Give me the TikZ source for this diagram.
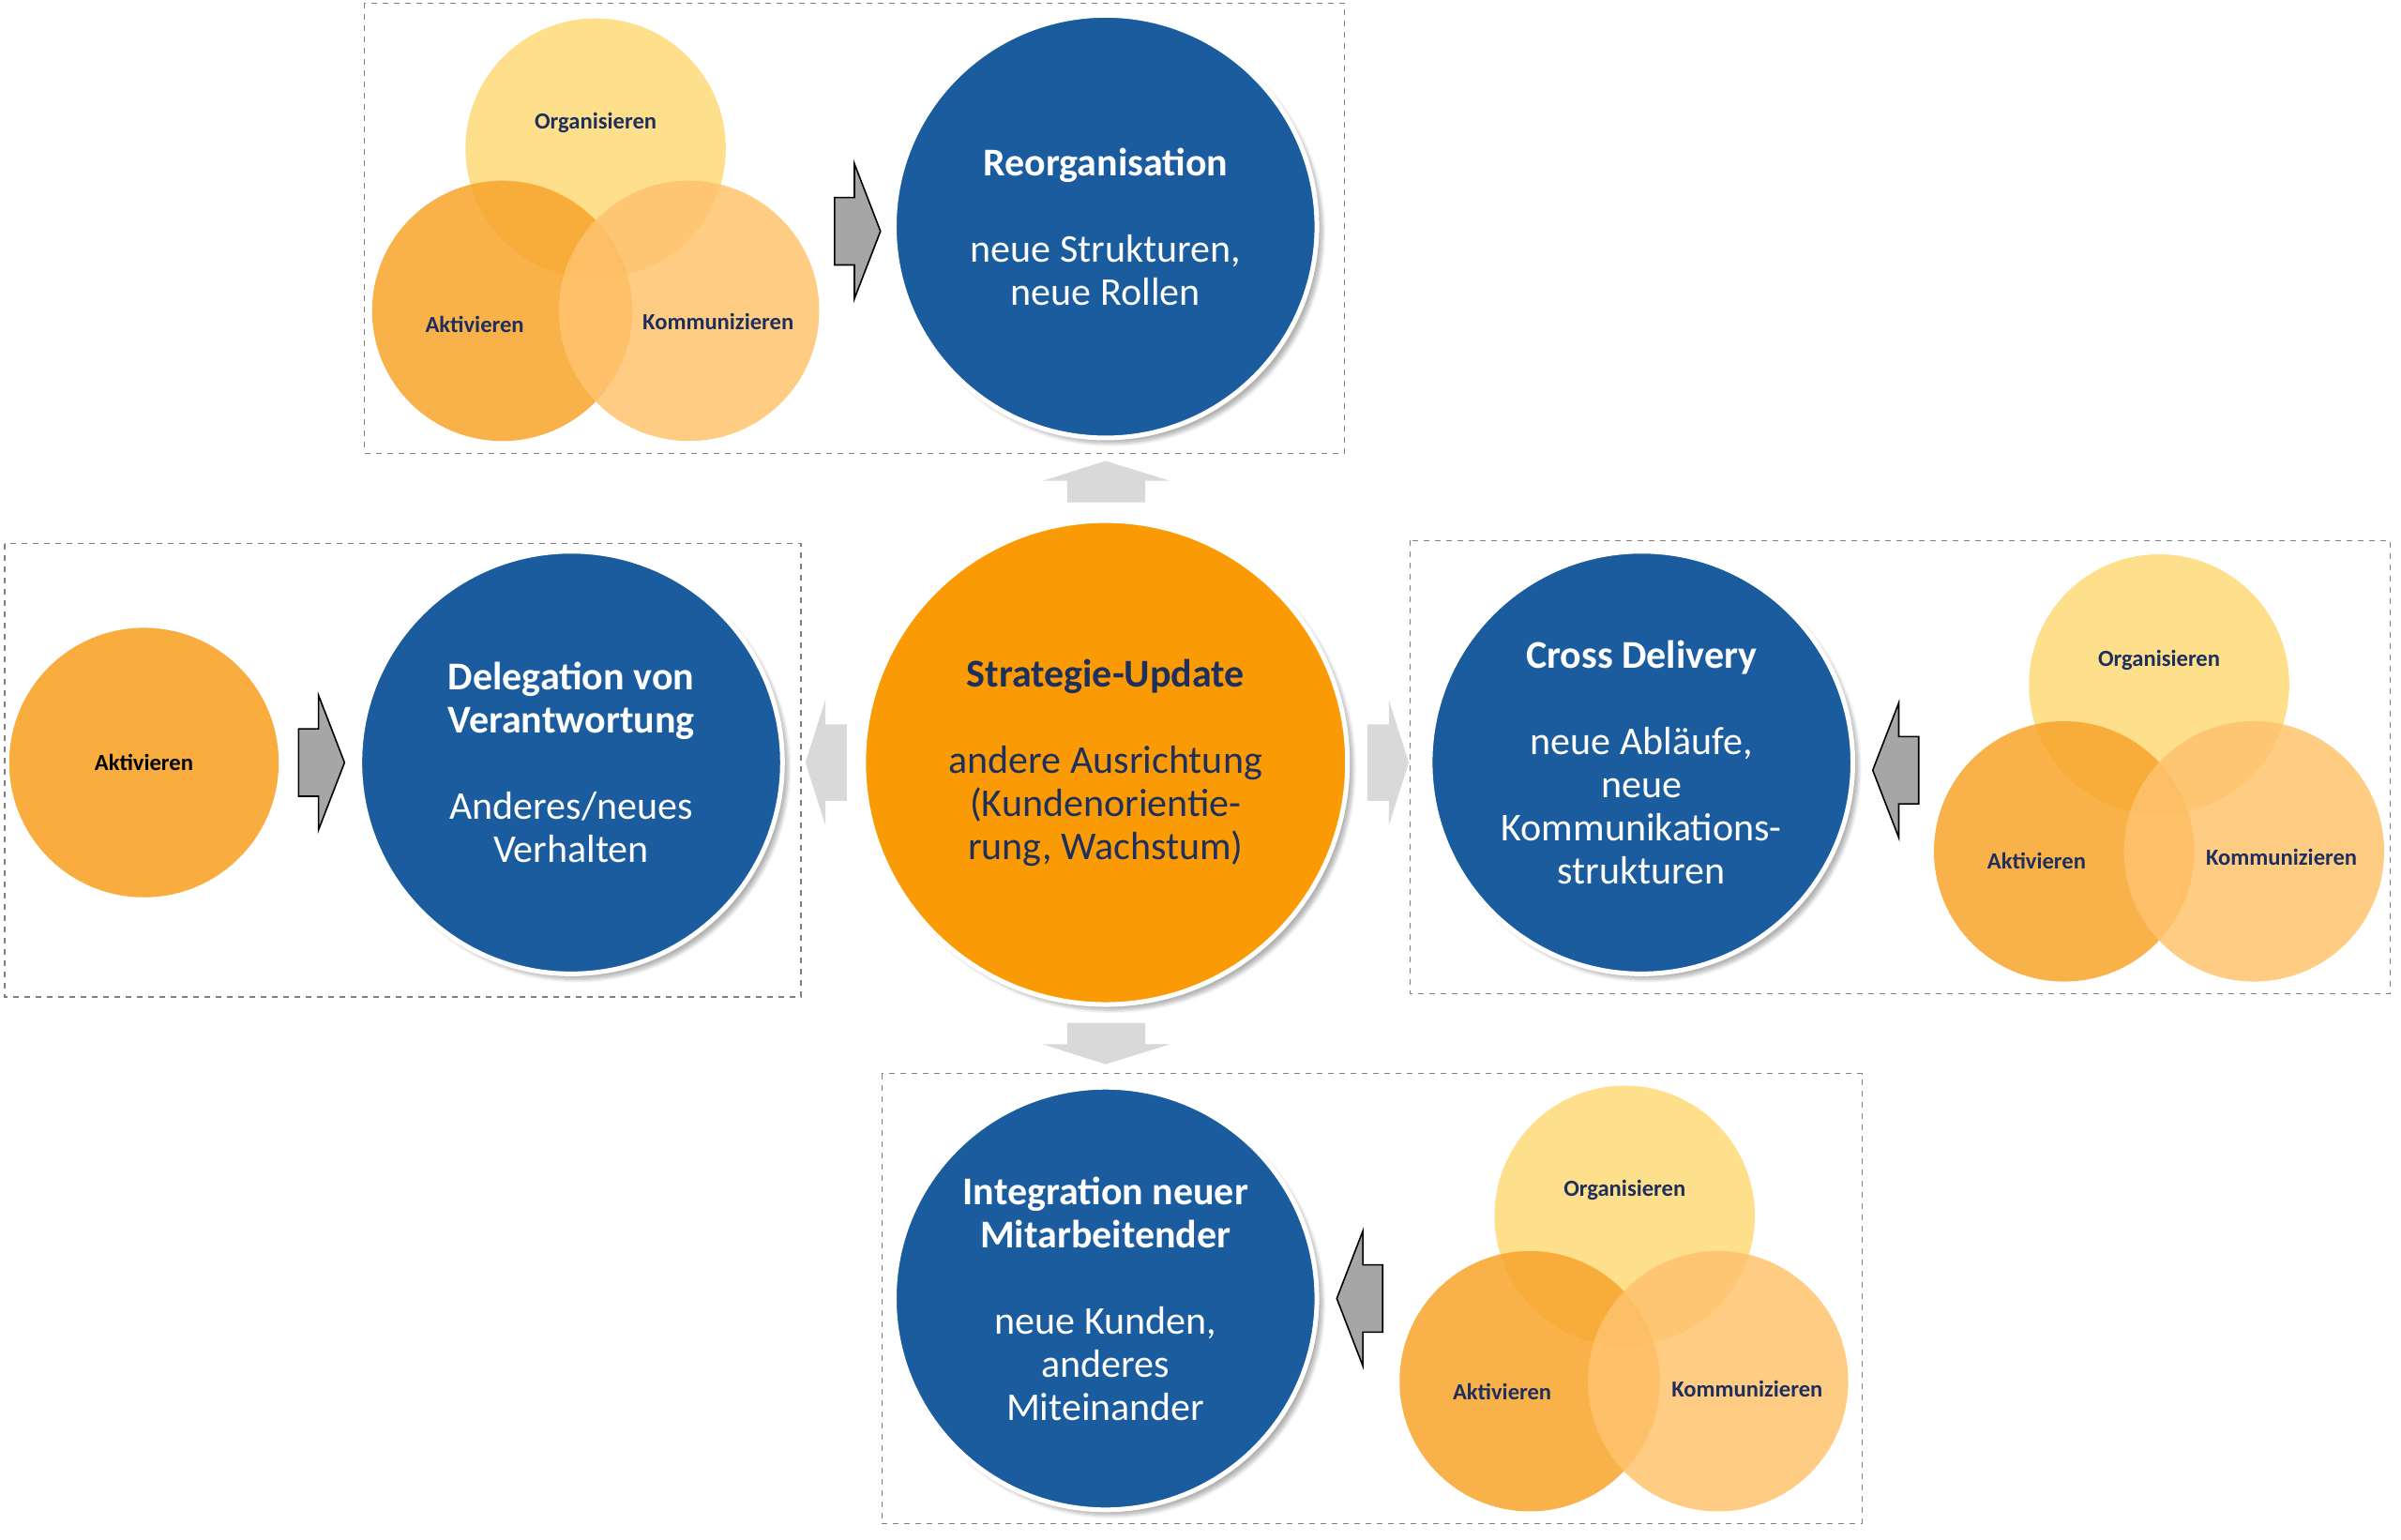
\documentclass[tikz,border=0pt]{standalone}
\usepackage{fontspec}
\setmainfont{Carlito}
\usetikzlibrary{shadows.blur}
\definecolor{cblue}{HTML}{1B5C9E}
\definecolor{corange}{HTML}{FA9B06}
\definecolor{corg}{HTML}{FED978}
\definecolor{cakt}{HTML}{F8A42A}
\definecolor{ckom}{HTML}{FFC36E}
\definecolor{cnavy}{HTML}{1F2F5C}
\definecolor{cgray}{HTML}{D9D9D9}
\begin{document}
\begin{tikzpicture}[x=0.8163pt,y=-0.8163pt,
  big/.style={circle,draw=white,line width=2.5pt,minimum size=276*0.8163pt,inner sep=0pt,text=white,align=center,font=\fontsize{21}{23}\selectfont,
     blur shadow={shadow xshift=3pt,shadow yshift=-3pt,shadow blur steps=8,shadow opacity=30}},
  ven/.style={circle,minimum size=170*0.8163pt,inner sep=0pt,fill opacity=0.85,text opacity=1},
  vlab/.style={font=\bfseries\fontsize{12.3}{14}\selectfont,text=cnavy},
  box/.style={draw=gray,dashed,line width=0.7pt},
  darr/.style={draw=black,fill=gray!70,line width=0.8pt,line join=miter},
  garr/.style={fill=cgray}]
\useasboundingbox (0,0) rectangle (1568,1005.7);
\draw[box] (238,2) rectangle (878,296);
\draw[box] (3,355) rectangle (523,651);
\draw[box] (921,353) rectangle (1561,649);
\draw[box] (576,701) rectangle (1216,995);
% Venn top
\node[ven,fill=corg] (o1) at (389,97) {};
\node[ven,fill=cakt] (a1) at (328,203) {};
\node[ven,fill=ckom] (k1) at (450,203) {};
\node[vlab] at (389,80) {Organisieren};
\node[vlab] at (310,212) {Aktivieren};
\node[vlab] at (469,210) {Kommunizieren};
% Venn right
\node[ven,fill=corg] (o2) at (1410,447) {};
\node[ven,fill=cakt] (a2) at (1348,556) {};
\node[ven,fill=ckom] (k2) at (1472,556) {};
\node[vlab] at (1410,431) {Organisieren};
\node[vlab] at (1330,562) {Aktivieren};
\node[vlab] at (1490,560) {Kommunizieren};
% Venn bottom
\node[ven,fill=corg] (o3) at (1061,794) {};
\node[ven,fill=cakt] (a3) at (999,902) {};
\node[ven,fill=ckom] (k3) at (1122,902) {};
\node[vlab] at (1061,777) {Organisieren};
\node[vlab] at (981,909) {Aktivieren};
\node[vlab] at (1141,907) {Kommunizieren};
% single
\node[circle,fill=cakt,fill opacity=0.9,text opacity=1,minimum size=176*0.8163pt,font=\bfseries\fontsize{12.3}{14}\selectfont] (a4) at (94,498) {Aktivieren};
% big circles
\node[big,fill=corange,minimum size=316*0.8163pt,text=cnavy] (c) at (722,498) {\textbf{Strategie-Update}\\[23pt]andere Ausrichtung\\(Kundenorientie-\\rung, Wachstum)};
\node[big,fill=cblue] (r) at (722,148) {\textbf{Reorganisation}\\[23pt]neue Strukturen,\\neue Rollen};
\node[big,fill=cblue] (d) at (373,498) {\textbf{Delegation von}\\\textbf{Verantwortung}\\[23pt]Anderes/neues\\Verhalten};
\node[big,fill=cblue] (x) at (1072,498) {\textbf{Cross Delivery}\\[23pt]neue Abläufe,\\neue\\Kommunikations-\\strukturen};
\node[big,fill=cblue] (i) at (722,848) {\textbf{Integration neuer}\\\textbf{Mitarbeitender}\\[23pt]neue Kunden,\\anderes\\Miteinander};
% dark arrows (right-pointing at origin: body 0..13, head 13..30)
\foreach \px/\py/\s in {545/151/1, 195/498/1, 1253/503/-1, 903/848/-1}{
  \draw[darr] (\px,\py) ++(0,-22) -- ++(13*\s,0) -- ++(0,-22) -- ++(17*\s,44) -- ++(-17*\s,44) -- ++(0,-22) -- ++(-13*\s,0) -- cycle;
}
% gray arrows
\fill[garr] (697,328) -- (697,314) -- (681,314) -- (722,301) -- (764,314) -- (748,314) -- (748,328) -- cycle;
\fill[garr] (697,668) -- (697,682) -- (681,682) -- (722,695) -- (764,682) -- (748,682) -- (748,668) -- cycle;
\fill[garr] (553,473) -- (539,473) -- (539,457) -- (526,498) -- (539,539) -- (539,523) -- (553,523) -- cycle;
\fill[garr] (893,473) -- (907,473) -- (907,457) -- (920,498) -- (907,539) -- (907,523) -- (893,523) -- cycle;
\end{tikzpicture}
\end{document}
